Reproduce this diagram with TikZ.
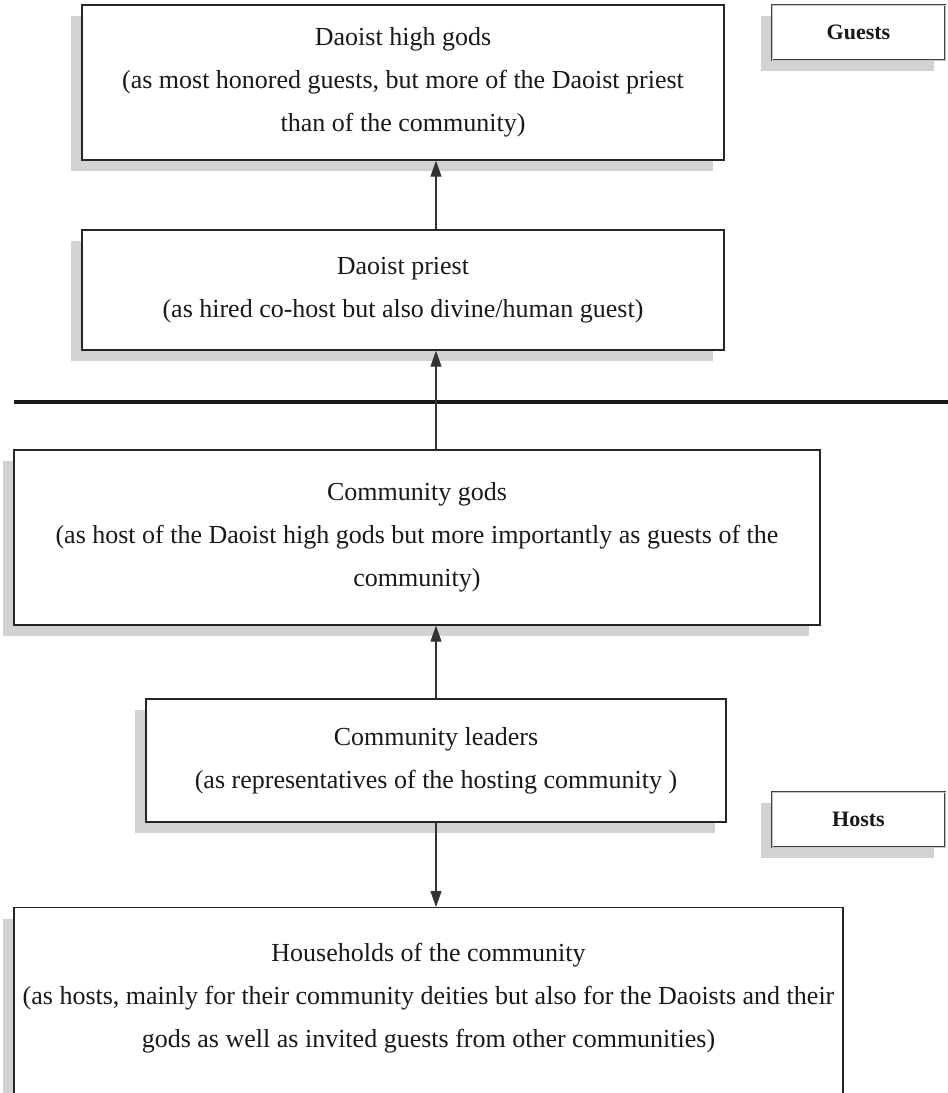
\documentclass[tikz,border=0pt]{standalone}
\usepackage{fontspec}
\setmainfont{Liberation Serif}
\usetikzlibrary{arrows.meta,shadows}
\newcommand\boxfont{\fontsize{26}{43}\selectfont}
\newcommand\tagfont{\fontsize{22}{24}\selectfont\bfseries}

\begin{document}
\begin{tikzpicture}[x=1pt, y=-1pt,
    role/.style={draw=black!85, line width=1.4pt, fill=white, align=center, inner sep=0pt,
      font=\boxfont, text=black!90,
      drop shadow={shadow xshift=-11pt, shadow yshift=-11pt, fill=gray!35, opacity=1}},
    tag/.style={role, font=\tagfont, draw=black!75, double=gray!45, double distance=1pt, line width=0.9pt},
    link/.style={draw=black!80, line width=1.2pt, -{Triangle[length=16pt,width=11pt]}}]
  \useasboundingbox (0,0) rectangle (948,1093);

  \node[role, minimum width=642pt, minimum height=155pt] (high) at (403,82.5)
    {Daoist high gods\\(as most honored guests, but more of the Daoist priest\\than of the community)};
  \node[role, minimum width=642pt, minimum height=120pt] (priest) at (403,290)
    {Daoist priest\\(as hired co-host but also divine/human guest)};
  \node[role, minimum width=806pt, minimum height=175pt] (gods) at (417,537.5)
    {Community gods\\(as host of the Daoist high gods but more importantly as guests of the\\community)};
  \node[role, minimum width=580pt, minimum height=123pt] (leaders) at (436,760.5)
    {Community leaders\\(as representatives of the hosting community )};
  \node[role, minimum width=829pt, minimum height=260pt, anchor=north] (house) at (428.5,907) {};
  \node[font=\boxfont, align=center, text=black!90, inner sep=0pt] (housetext) at ([yshift=-91pt]house.north)
    {Households of the community\\(as hosts, mainly for their community deities but also for the Daoists and their\\gods as well as invited guests from other communities)};

  \node[tag, minimum width=173pt, minimum height=55pt] (guests) at (858.5,32.5) {Guests};
  \node[tag, minimum width=173pt, minimum height=55pt] (hosts) at (858.5,819.5) {Hosts};

  % dividing line between guests and hosts
  \draw[line width=4pt, black!90] (14,402) -- (948,402);

  \draw[link] (priest.north -| leaders) -- (high.south -| leaders);
  \draw[link] (gods.north -| leaders) -- (priest.south -| leaders);
  \draw[link] (leaders.north) -- (gods.south -| leaders);
  \draw[link] (leaders.south) -- (house.north -| leaders);
\end{tikzpicture}
\end{document}
